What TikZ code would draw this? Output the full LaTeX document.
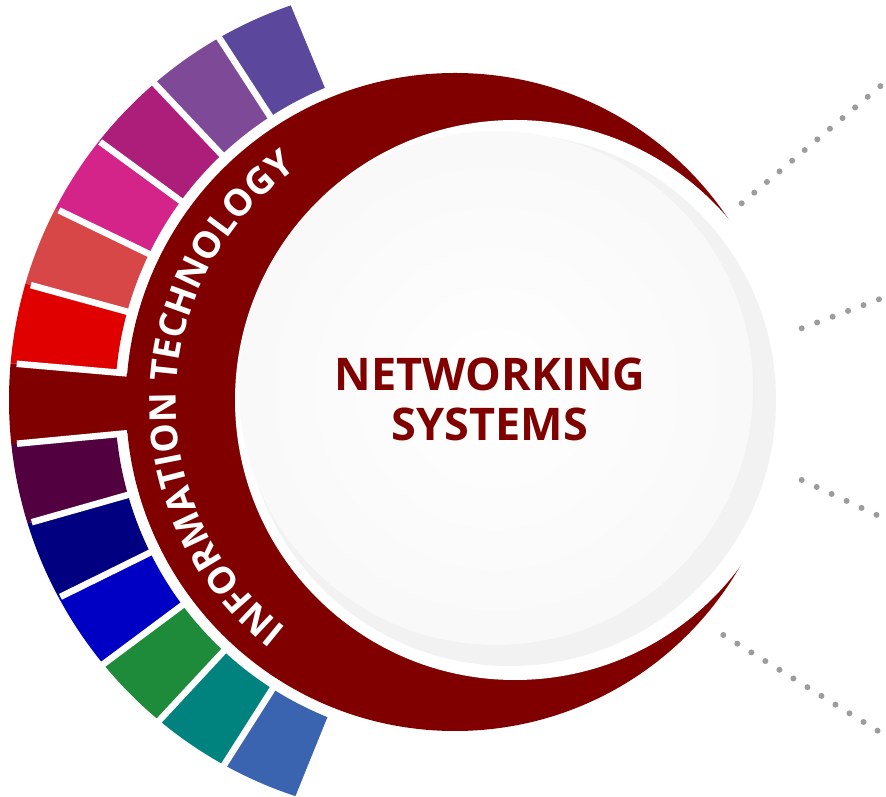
\documentclass[tikz,border=0pt]{standalone}
\usepackage{fontspec}
\setmainfont{Open Sans}
\usepackage{tikz}
\usetikzlibrary{positioning,calc,decorations.text}

\definecolor{bandred}{HTML}{800000}
\definecolor{segA}{HTML}{5B479B}
\definecolor{segB}{HTML}{7E4996}
\definecolor{segC}{HTML}{AC1E7A}
\definecolor{segD}{HTML}{D42389}
\definecolor{segE}{HTML}{D74747}
\definecolor{segF}{HTML}{E00000}
\definecolor{segG}{HTML}{800000}
\definecolor{segH}{HTML}{52003F}
\definecolor{segI}{HTML}{000080}
\definecolor{segJ}{HTML}{0000C4}
\definecolor{segK}{HTML}{1E8B3A}
\definecolor{segL}{HTML}{00837E}
\definecolor{segM}{HTML}{3A64B0}
\definecolor{dotgray}{HTML}{9C9C9C}
\newcommand\bandfont{\fontsize{37}{37}\selectfont\bfseries}

\begin{document}
\begin{tikzpicture}[x=1pt,y=1pt,
        headline/.style={font=\fontsize{45}{50}\selectfont\bfseries, text=bandred, align=center, inner sep=0pt},
        dotline/.style={draw=dotgray, line width=6pt, line cap=round, dash pattern=on 0pt off 16.5pt},
        gap/.style={draw=white, line width=6.5pt}
    ]
        \useasboundingbox (0,0) rectangle (886,797);

        % Centres
        \coordinate (ring) at (455,395);
        \coordinate (outer) at (426,397);
        \coordinate (hole) at (515,397);
        \coordinate (disk) at (510,397);
        \coordinate (textc) at (463,395);

        % Segments
        \begin{scope}
            \clip (outer) circle (417);
            \foreach \c [count=\i] in {segA,segB,segC,segD,segE,segF,segG,segH,segI,segJ,segK,segL,segM} {
                \pgfmathsetmacro\a{112.5+(\i-1)*10.42}
                \pgfmathsetmacro\b{\a+10.42}
                \pgfmathsetmacro\r{\i==7 ? 320 : 340}
                \fill[\c] ($(ring)+(\a:\r)$) arc[start angle=\a, end angle=\b, radius=\r]
                    -- ($(ring)+(\b:460)$) arc[start angle=\b, end angle=\a, radius=460] -- cycle;
            }
        \end{scope}

        % Band
        \fill[bandred] (ring) circle (329);
        \fill[white] (hole) circle (280);
        \foreach \k in {1,...,12} {
            \pgfmathsetmacro\a{112.5+\k*10.42}
            \draw[gap] ($(ring)+(\a:329.5)$) -- ($(ring)+(\a:440)$);
        }

        % Disk
        \fill[gray!10] (disk) circle (266);
        \shade[inner color=white, outer color=gray!5] ($(disk)+(-14,12)$) circle (257);
        \node (title) [headline] at (490,398) {NETWORKING\\SYSTEMS};

        % Band text
        \path[decorate, decoration={text along path, text={|\bandfont|INFORMATION TECHNOLOGY},
            text color=white, text align={fit to path}}]
            ($(textc)+(232:287)$) arc[start angle=232, end angle=127.6, radius=287];

        % Dots
        \coordinate (d1a) at (741.7,593.7);
        \coordinate (d1b) at (881.7,712);
        \coordinate (d2a) at (801.7,468.7);
        \coordinate (d2b) at (881.7,498.7);
        \coordinate (d3a) at (801.7,317);
        \coordinate (d3b) at (881.7,279.7);
        \coordinate (d4a) at (723.3,162);
        \coordinate (d4b) at (881.7,63.7);
        \draw[dotline] (d1a) -- (d1b);
        \draw[dotline] (d2a) -- (d2b);
        \draw[dotline] (d3a) -- (d3b);
        \draw[dotline] (d4a) -- (d4b);
    \end{tikzpicture}
\end{document}
